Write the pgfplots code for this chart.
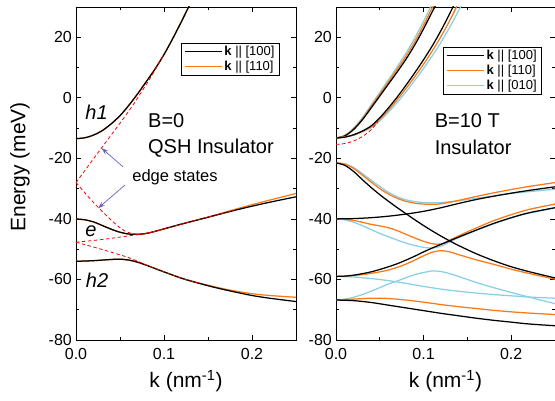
\documentclass[border=0pt]{standalone}
\usepackage{fontspec}
\setmainfont{Liberation Sans}
\usepackage{pgfplots}
\pgfplotsset{compat=1.18}
\usetikzlibrary{arrows.meta}

\definecolor{bandorange}{RGB}{255,120,20}
\definecolor{bandcyan}{RGB}{135,208,230}
\definecolor{arrowblue}{RGB}{105,95,200}

\pgfplotsset{
  bandaxis/.style={
    scale only axis, width=220pt, height=333pt,
    xmin=0, xmax=0.25, ymin=-80, ymax=30,
    xtick={0,0.1,0.2}, ytick={-80,-60,...,20},
    minor x tick num=1, minor y tick num=1,
    tick align=inside, major tick length=5pt, minor tick length=3pt,
    axis line style={line width=0.9pt},
    every tick/.style={line width=0.8pt, black},
    xticklabel style={/pgf/number format/.cd, fixed, fixed zerofill, precision=1, assume math mode=true},
    yticklabel style={/pgf/number format/assume math mode=true},
    tick label style={font=\fontsize{16}{16}\selectfont, inner sep=1pt},
    xticklabel shift=7pt, yticklabel shift=3pt,
    xlabel={k (nm\textsuperscript{-1})},
    every axis x label/.style={at={(axis description cs:0.5,-0.123)}, anchor=center,
      font=\fontsize{21}{21}\selectfont},
    legend cell align=left,
    legend image code/.code={\draw[##1] (0pt,0pt) -- (37pt,0pt);},
    legend style={draw=black, line width=0.8pt, font=\fontsize{13}{15}\selectfont,
      inner xsep=3pt, inner ysep=1pt, row sep=0pt},
  },
  bk/.style={black, line width=1.25pt, smooth, forget plot},
  og/.style={bandorange, line width=1.25pt, smooth, forget plot},
  cy/.style={bandcyan, line width=1.25pt, smooth, forget plot},
  edge/.style={red, line width=0.8pt, dash pattern=on 3.5pt off 2.5pt, smooth, forget plot},
}

\begin{document}
\begin{tikzpicture}
\path[use as bounding box] (0,0) rectangle (555pt,401pt);

% ---------- B = 0 ----------
\begin{axis}[bandaxis, at={(76pt,61pt)}, anchor=south west,
  ylabel={Energy (meV)},
  every axis y label/.style={at={(axis description cs:-0.2545,0.52)}, rotate=90, anchor=center,
    font=\fontsize{21}{21}\selectfont},
  legend style={at={(0.927,0.892)}, anchor=north east}]
\addlegendimage{black, line width=1.2pt}
\addlegendentry{$\mathbf{k}$ || [100]}
\addlegendimage{bandorange, line width=1.2pt}
\addlegendentry{$\mathbf{k}$ || [110]}

% h1
\addplot[og] coordinates {(0,-13.5) (0.01,-13.2) (0.02,-12.3) (0.03,-10.8) (0.04,-8.6) (0.05,-5.9) (0.06,-2.5) (0.07,1.3) (0.08,5.4) (0.09,9.6) (0.10,14.3) (0.11,19.6) (0.12,25.3) (0.13,31.2)};
\addplot[bk] coordinates {(0,-13.5) (0.01,-13.2) (0.02,-12.3) (0.03,-10.8) (0.04,-8.6) (0.05,-5.9) (0.06,-2.5) (0.07,1.3) (0.08,5.4) (0.09,9.6) (0.10,14.3) (0.11,19.6) (0.12,25.3) (0.13,31.2)};
% e
\addplot[og] coordinates {(0,-40.0) (0.01,-40.3) (0.02,-41.0) (0.03,-42.2) (0.04,-43.4) (0.05,-44.4) (0.06,-45.0) (0.07,-45.1) (0.08,-44.8) (0.09,-44.1) (0.10,-43.3) (0.12,-41.7) (0.14,-40.2) (0.16,-38.6) (0.18,-36.9) (0.20,-35.3) (0.22,-33.8) (0.25,-31.6)};
\addplot[bk] coordinates {(0,-40.0) (0.01,-40.3) (0.02,-41.0) (0.03,-42.2) (0.04,-43.4) (0.05,-44.4) (0.06,-45.0) (0.07,-45.1) (0.08,-44.8) (0.09,-44.1) (0.10,-43.3) (0.12,-41.7) (0.14,-40.2) (0.16,-38.7) (0.18,-37.2) (0.20,-35.8) (0.22,-34.5) (0.25,-32.7)};
% h2
\addplot[og] coordinates {(0,-54.0) (0.02,-53.8) (0.04,-53.4) (0.05,-53.3) (0.06,-53.6) (0.07,-54.3) (0.08,-55.3) (0.09,-56.4) (0.10,-57.5) (0.12,-59.6) (0.14,-61.2) (0.16,-62.6) (0.18,-63.8) (0.20,-64.7) (0.22,-65.3) (0.25,-65.9)};
\addplot[bk] coordinates {(0,-54.0) (0.02,-53.8) (0.04,-53.4) (0.05,-53.3) (0.06,-53.6) (0.07,-54.3) (0.08,-55.3) (0.09,-56.4) (0.10,-57.5) (0.12,-59.6) (0.14,-61.3) (0.16,-62.8) (0.18,-64.1) (0.20,-65.3) (0.22,-66.2) (0.25,-67.3)};
% edge states
\addplot[edge] coordinates {(0,-28) (0.02,-20.1) (0.04,-12.3) (0.055,-6.4) (0.065,-2.3) (0.075,2.2) (0.085,6.8) (0.10,14.3)};
\addplot[edge] coordinates {(0,-28) (0.02,-34.6) (0.04,-40.4) (0.055,-43.9) (0.07,-45.1) (0.09,-44.1) (0.12,-41.7) (0.15,-39.4) (0.18,-37.2)};
\addplot[edge] coordinates {(0,-47.7) (0.03,-46.8) (0.06,-45.6) (0.08,-44.8) (0.10,-43.3)};
\addplot[edge] coordinates {(0,-47.7) (0.02,-49.3) (0.04,-51.0) (0.06,-52.8) (0.075,-54.6) (0.09,-56.4) (0.12,-59.6) (0.14,-61.3)};

\node[font=\fontsize{20}{20}\selectfont\itshape] at (axis cs:0.0233,-4.8) {h1};
\node[font=\fontsize{20}{20}\selectfont\itshape] at (axis cs:0.017,-44) {e};
\node[font=\fontsize{20}{20}\selectfont\itshape] at (axis cs:0.024,-60.2) {h2};
\node[font=\fontsize{20}{20}\selectfont, anchor=west, inner sep=0pt] at (axis cs:0.0818,-7.6) {B=0};
\node[font=\fontsize{20}{20}\selectfont, anchor=west, inner sep=0pt] at (axis cs:0.0818,-16.5) {QSH Insulator};
\node[font=\fontsize{16.5}{16.5}\selectfont] at (axis cs:0.1125,-26.1) {edge states};
\draw[arrowblue, line width=0.7pt, -{Stealth[length=7pt,width=4.5pt]}] (axis cs:0.0534,-22.8) -- (axis cs:0.029,-16.6);
\draw[arrowblue, line width=0.7pt, -{Stealth[length=7pt,width=4.5pt]}] (axis cs:0.0557,-28.8) -- (axis cs:0.025,-36.5);
\end{axis}

% ---------- B = 10 T ----------
\begin{axis}[bandaxis, at={(336pt,61pt)}, anchor=south west, width=219pt,
  legend style={at={(0.941,0.88)}, anchor=north east}]
\addlegendimage{black, line width=1.2pt}
\addlegendentry{$\mathbf{k}$ || [100]}
\addlegendimage{bandorange, line width=1.2pt}
\addlegendentry{$\mathbf{k}$ || [110]}
\addlegendimage{bandcyan, line width=1.2pt}
\addlegendentry{$\mathbf{k}$ || [010]}

% upper bands, branch A
\addplot[cy] coordinates {(0,-13.3) (0.01,-12.4) (0.02,-10.0) (0.03,-6.6) (0.04,-2.4) (0.05,1.8) (0.06,6.0) (0.07,10.3) (0.08,14.8) (0.09,19.8) (0.10,25.3) (0.11,31.2)};
\addplot[og] coordinates {(0,-13.3) (0.01,-12.5) (0.02,-10.3) (0.03,-7.0) (0.04,-2.9) (0.05,1.2) (0.06,5.3) (0.07,9.5) (0.08,13.8) (0.09,18.6) (0.10,24.0) (0.11,29.8) (0.12,35.5)};
\addplot[bk] coordinates {(0,-13.3) (0.01,-12.6) (0.02,-10.5) (0.03,-7.3) (0.04,-3.4) (0.05,0.6) (0.06,4.6) (0.07,8.6) (0.08,12.8) (0.09,17.5) (0.10,22.8) (0.11,28.5) (0.12,34.0)};
% upper bands, branch B
\addplot[cy] coordinates {(0,-13.3) (0.02,-12.4) (0.04,-9.9) (0.05,-7.6) (0.06,-4.7) (0.07,-1.5) (0.08,2.0) (0.09,5.8) (0.10,9.7) (0.11,13.9) (0.12,18.4) (0.13,23.4) (0.14,28.8) (0.15,34.5)};
\addplot[og] coordinates {(0,-13.3) (0.02,-12.3) (0.04,-9.6) (0.05,-7.1) (0.06,-4.0) (0.07,-0.6) (0.08,3.1) (0.09,7.0) (0.10,11.1) (0.11,15.5) (0.12,20.3) (0.13,25.6) (0.14,31.4)};
\addplot[bk] coordinates {(0,-13.3) (0.01,-13.0) (0.02,-12.2) (0.03,-11.0) (0.04,-9.3) (0.05,-6.6) (0.06,-3.3) (0.07,0.3) (0.08,4.2) (0.09,8.3) (0.10,12.6) (0.11,17.2) (0.12,22.3) (0.13,27.9) (0.14,33.8)};
\addplot[edge] coordinates {(0,-15.4) (0.01,-15.1) (0.02,-14.3) (0.03,-12.8) (0.04,-10.6) (0.048,-7.8)};

% lower bands
\addplot[cy] coordinates {(0,-21.5) (0.01,-21.8) (0.02,-23.0) (0.03,-25.0) (0.04,-27.2) (0.05,-29.3) (0.06,-31.2) (0.07,-32.7) (0.08,-33.7) (0.09,-34.3) (0.10,-34.6) (0.11,-34.7) (0.12,-34.6) (0.13,-34.3) (0.14,-34.0) (0.16,-33.2) (0.18,-32.4) (0.20,-31.6) (0.22,-31.0) (0.25,-30.2)};
\addplot[cy] coordinates {(0,-40) (0.01,-40.3) (0.02,-41.1) (0.03,-42.2) (0.04,-43.5) (0.05,-44.8) (0.06,-45.9) (0.07,-47.0) (0.08,-48.0) (0.09,-48.8) (0.10,-49.4) (0.11,-49.6) (0.12,-49.0) (0.13,-47.6) (0.14,-46.2) (0.16,-43.8) (0.18,-41.6) (0.20,-39.7) (0.22,-38.1) (0.25,-36.4)};
\addplot[cy] coordinates {(0,-59.0) (0.02,-59.2) (0.04,-59.7) (0.06,-60.4) (0.08,-61.3) (0.10,-62.3) (0.12,-63.2) (0.14,-63.9) (0.16,-64.5) (0.18,-65.0) (0.20,-65.4) (0.22,-65.8) (0.25,-66.2)};
\addplot[cy] coordinates {(0,-66.8) (0.01,-66.5) (0.02,-65.9) (0.03,-65.0) (0.04,-63.9) (0.05,-62.7) (0.06,-61.5) (0.07,-60.5) (0.08,-59.4) (0.09,-58.4) (0.10,-57.7) (0.11,-57.2) (0.12,-57.4) (0.13,-58.1) (0.14,-59.0) (0.16,-61.0) (0.18,-62.7) (0.20,-64.3) (0.22,-65.8) (0.25,-68.0)};

\addplot[og] coordinates {(0,-21.5) (0.01,-21.9) (0.02,-23.3) (0.03,-25.5) (0.04,-27.8) (0.05,-30.0) (0.06,-31.8) (0.07,-33.2) (0.08,-34.2) (0.09,-34.8) (0.10,-35.1) (0.11,-35.2) (0.12,-35.0) (0.13,-34.5) (0.14,-33.9) (0.16,-32.6) (0.18,-31.4) (0.20,-30.3) (0.22,-29.3) (0.25,-28.0)};
\addplot[og] coordinates {(0,-40) (0.01,-40.1) (0.02,-40.5) (0.03,-41.1) (0.04,-41.8) (0.05,-42.3) (0.06,-42.9) (0.07,-43.9) (0.08,-45.1) (0.09,-46.3) (0.10,-47.4) (0.11,-48.2) (0.12,-48.3) (0.13,-47.0) (0.14,-45.6) (0.16,-43.0) (0.18,-40.6) (0.20,-38.6) (0.22,-36.9) (0.25,-35.1)};
\addplot[og] coordinates {(0,-59.0) (0.01,-58.9) (0.02,-58.7) (0.03,-58.4) (0.04,-58.0) (0.05,-57.5) (0.06,-56.9) (0.07,-56.0) (0.08,-54.9) (0.09,-53.6) (0.10,-52.2) (0.11,-51.0) (0.12,-50.5) (0.13,-50.9) (0.14,-51.8) (0.16,-53.5) (0.18,-55.0) (0.20,-56.6) (0.22,-58.0) (0.25,-59.9)};
\addplot[og] coordinates {(0,-66.8) (0.02,-66.5) (0.04,-66.2) (0.05,-66.2) (0.06,-66.3) (0.08,-66.8) (0.10,-67.5) (0.12,-68.3) (0.14,-69.0) (0.16,-69.6) (0.18,-70.2) (0.20,-70.7) (0.22,-71.1) (0.25,-71.6)};

\addplot[bk] coordinates {(0,-21.5) (0.01,-22.3) (0.02,-24.3) (0.03,-27.0) (0.04,-29.6) (0.05,-32.0) (0.06,-34.2) (0.07,-36.3) (0.08,-38.3) (0.09,-40.3) (0.10,-42.2) (0.11,-44.0) (0.12,-45.7) (0.13,-47.3) (0.14,-48.8) (0.16,-51.5) (0.18,-53.8) (0.20,-55.8) (0.22,-57.4) (0.25,-59.5)};
\addplot[bk] coordinates {(0,-40) (0.02,-39.9) (0.04,-39.6) (0.06,-39.1) (0.08,-38.4) (0.10,-37.5) (0.12,-36.3) (0.14,-34.9) (0.16,-33.6) (0.18,-32.5) (0.20,-31.5) (0.22,-30.6) (0.25,-29.4)};
\addplot[bk] coordinates {(0,-59.0) (0.01,-58.9) (0.02,-58.6) (0.03,-58.1) (0.04,-57.5) (0.05,-56.7) (0.06,-55.8) (0.07,-54.8) (0.08,-53.6) (0.09,-52.3) (0.10,-50.9) (0.11,-49.6) (0.12,-48.4) (0.13,-47.2) (0.14,-46.0) (0.16,-43.7) (0.18,-41.5) (0.20,-39.6) (0.22,-38.0) (0.25,-36.3)};
\addplot[bk] coordinates {(0,-66.8) (0.02,-67.0) (0.04,-67.6) (0.06,-68.5) (0.08,-69.4) (0.10,-70.3) (0.12,-71.2) (0.14,-72.0) (0.16,-72.8) (0.18,-73.5) (0.20,-74.1) (0.22,-74.7) (0.25,-75.3)};

\node[font=\fontsize{20}{20}\selectfont, anchor=west, inner sep=0pt] at (axis cs:0.1125,-7.6) {B=10 T};
\node[font=\fontsize{20}{20}\selectfont, anchor=west, inner sep=0pt] at (axis cs:0.1125,-16.5) {Insulator};
\end{axis}
\end{tikzpicture}
\end{document}
